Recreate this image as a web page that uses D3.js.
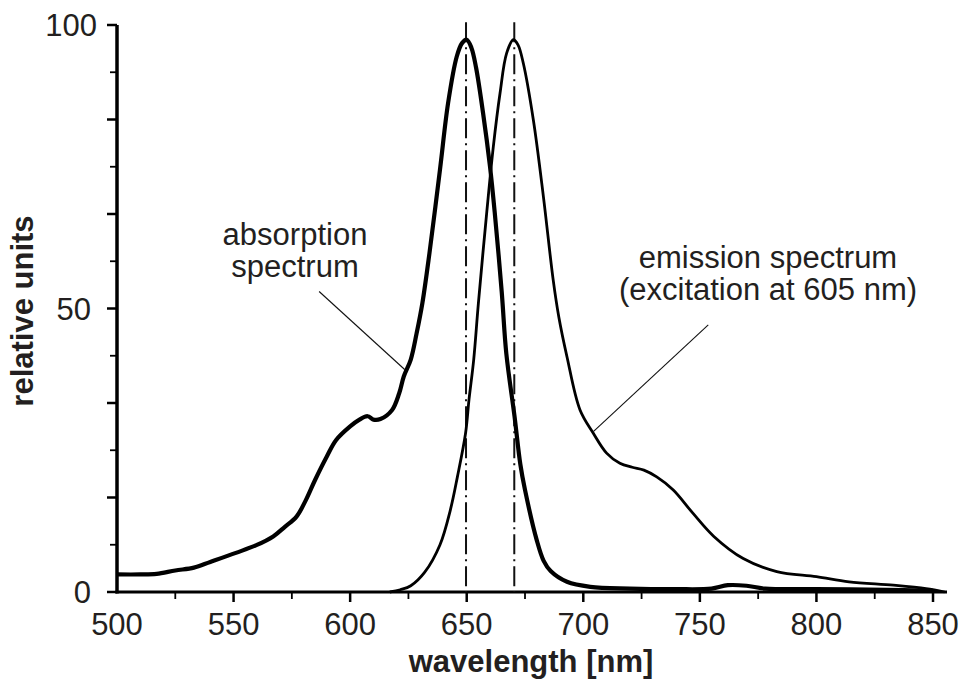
<!DOCTYPE html>
<html>
<head>
  <title>Absorption and emission spectra</title>
  <style>
    body { margin: 0; background: #fff; }
    svg { display: block; font-family: "Liberation Sans", Arial, sans-serif; }
    .lbl { fill: #231f20; font-size: 31px; }
    .title { fill: #231f20; font-size: 31px; font-weight: bold; }
  </style>
</head>
<body>
  <script src="https://d3js.org/d3.v7.min.js"></script>
  <script>
// absorption spectrum: [wavelength nm, relative units]
const absorption = [
  [500, 3.1], [510, 3.1], [517, 3.2], [525, 3.8], [533, 4.3], [540, 5.3],
  [551, 6.9], [560, 8.3], [567, 9.8], [572, 11.5], [577, 13.3], [581, 16.2],
  [585, 19.8], [590, 23.9], [594, 26.8], [600, 29.2], [604, 30.4], [607.5, 31.0],
  [610, 30.4], [613, 30.5], [618, 32.1], [621, 35], [623, 38], [626, 41],
  [628.5, 45.6], [631, 51], [634, 59.7], [638.5, 74.4], [642, 86.2], [645.7, 94.4],
  [648, 96.8], [650, 97.4], [652, 96], [654, 92.5], [657, 84.5], [660, 75],
  [662, 67], [665, 53], [667, 42], [670.5, 31], [673, 22.5], [675, 18],
  [680, 9.2], [683, 5.5], [686, 3.7], [693, 1.8], [703, 0.9], [720, 0.6],
  [740, 0.5], [755, 0.6], [762, 1.2], [770, 1.1], [778, 0.6], [800, 0.5],
  [830, 0.4], [850, 0.2]
];

// emission spectrum (excitation at 605 nm)
const emission = [
  [617, 0], [621.5, 0.4], [626, 1.1], [632, 3.5], [638.5, 8.3], [643, 14.5],
  [646, 20.3], [649.5, 28], [651, 34], [653, 41], [655, 50.9], [658.6, 67],
  [661.4, 78.5], [664.3, 88], [667.1, 95], [670, 97.4], [672, 96.5], [674.3, 93.2],
  [678.6, 83.2], [682.9, 69.7], [687.1, 55], [689.5, 48.5], [693, 41.5], [698.6, 32.1],
  [704.3, 28], [710, 24.5], [715.7, 22.7], [721, 22], [726, 21.5], [731.5, 20.3],
  [738.6, 18], [747, 13.9], [756, 9.8], [768.6, 5.9], [783, 3.6], [800, 2.7],
  [814, 1.8], [833, 1.2], [847, 0.6], [855, 0]
];

// peak markers (dash-dot)
const peaks = [649.7, 670.4];

const xTicks = [500, 550, 600, 650, 700, 750, 800, 850];
const xMinor = [525, 575, 625, 675, 725, 775, 825];
const yLabels = [0, 50, 100];
const yTicks = d3.range(0, 13).map(i => i * 100 / 12);

const absLabel = ["absorption", "spectrum"];
const emLabel = ["emission spectrum", "(excitation at 605 nm)"];

const width = 976, height = 682;

const svg = d3.select("body").append("svg")
  .attr("width", width)
  .attr("height", height);

const x = d3.scaleLinear().domain([500, 856]).range([117, 947]);
const y = d3.scaleLinear().domain([0, 100]).range([592, 25]);

// axes
svg.append("line")
  .attr("x1", x(500)).attr("x2", x(500))
  .attr("y1", y(100)).attr("y2", y(0) + 1.5)
  .attr("stroke", "#000").attr("stroke-width", 3.5);
svg.append("line")
  .attr("x1", x(500) - 1.5).attr("x2", x(856))
  .attr("y1", y(0)).attr("y2", y(0))
  .attr("stroke", "#000").attr("stroke-width", 3);

// y ticks, every other one longer
svg.append("g").selectAll("line")
  .data(yTicks)
  .join("line")
  .attr("x1", (d, i) => x(500) - (i % 2 === 0 ? 10 : 7))
  .attr("x2", x(500))
  .attr("y1", d => y(d)).attr("y2", d => y(d))
  .attr("stroke", "#000")
  .attr("stroke-width", (d, i) => i % 2 === 0 ? 2.5 : 1.8);

svg.append("g").selectAll("text")
  .data(yLabels)
  .join("text")
  .attr("class", "lbl")
  .attr("x", d => d === 100 ? 97 : 91)
  .attr("y", d => y(d) + 11)
  .attr("text-anchor", "end")
  .text(d => d);

// x ticks
svg.append("g").selectAll("line")
  .data(xTicks.slice(1))
  .join("line")
  .attr("x1", d => x(d)).attr("x2", d => x(d))
  .attr("y1", y(0)).attr("y2", y(0) + 10)
  .attr("stroke", "#000").attr("stroke-width", 2.5);
svg.append("g").selectAll("line")
  .data(xMinor)
  .join("line")
  .attr("x1", d => x(d)).attr("x2", d => x(d))
  .attr("y1", y(0)).attr("y2", y(0) + 7)
  .attr("stroke", "#000").attr("stroke-width", 1.8);

svg.append("g").selectAll("text")
  .data(xTicks)
  .join("text")
  .attr("class", "lbl")
  .attr("x", d => x(d))
  .attr("y", 635)
  .attr("text-anchor", "middle")
  .text(d => d);

// axis titles
svg.append("text")
  .attr("class", "title")
  .attr("x", 531).attr("y", 672)
  .attr("text-anchor", "middle")
  .text("wavelength [nm]");
svg.append("text")
  .attr("class", "title")
  .attr("transform", "translate(33,311) rotate(-90)")
  .attr("text-anchor", "middle")
  .text("relative units");

// dash-dot peak lines
svg.append("g").selectAll("line")
  .data(peaks)
  .join("line")
  .attr("x1", d => x(d)).attr("x2", d => x(d))
  .attr("y1", y(100.5)).attr("y2", y(0))
  .attr("stroke", "#111")
  .attr("stroke-width", 2)
  .attr("stroke-dasharray", "20 5 2 5");

const line = d3.line()
  .x(d => x(d[0]))
  .y(d => y(d[1]))
  .curve(d3.curveCatmullRom.alpha(0.5));

svg.append("path")
  .datum(emission)
  .attr("d", line)
  .attr("fill", "none")
  .attr("stroke", "#000")
  .attr("stroke-width", 2.8)
  .attr("stroke-linejoin", "round");

svg.append("path")
  .datum(absorption)
  .attr("d", line)
  .attr("fill", "none")
  .attr("stroke", "#000")
  .attr("stroke-width", 4.2)
  .attr("stroke-linejoin", "round");

// annotations
svg.append("g").selectAll("text")
  .data(absLabel)
  .join("text")
  .attr("class", "lbl")
  .attr("x", 295)
  .attr("y", (d, i) => 245 + i * 32)
  .attr("text-anchor", "middle")
  .text(d => d);
svg.append("line")
  .attr("x1", x(586.7)).attr("y1", y(53))
  .attr("x2", x(623.5)).attr("y2", y(39.2))
  .attr("stroke", "#111").attr("stroke-width", 1.1);

svg.append("g").selectAll("text")
  .data(emLabel)
  .join("text")
  .attr("class", "lbl")
  .attr("x", 768)
  .attr("y", (d, i) => 268 + i * 32)
  .attr("text-anchor", "middle")
  .text(d => d);
svg.append("line")
  .attr("x1", x(753.6)).attr("y1", y(47.1))
  .attr("x2", x(704.3)).attr("y2", y(28.3))
  .attr("stroke", "#111").attr("stroke-width", 1.1);
  </script>
</body>
</html>
